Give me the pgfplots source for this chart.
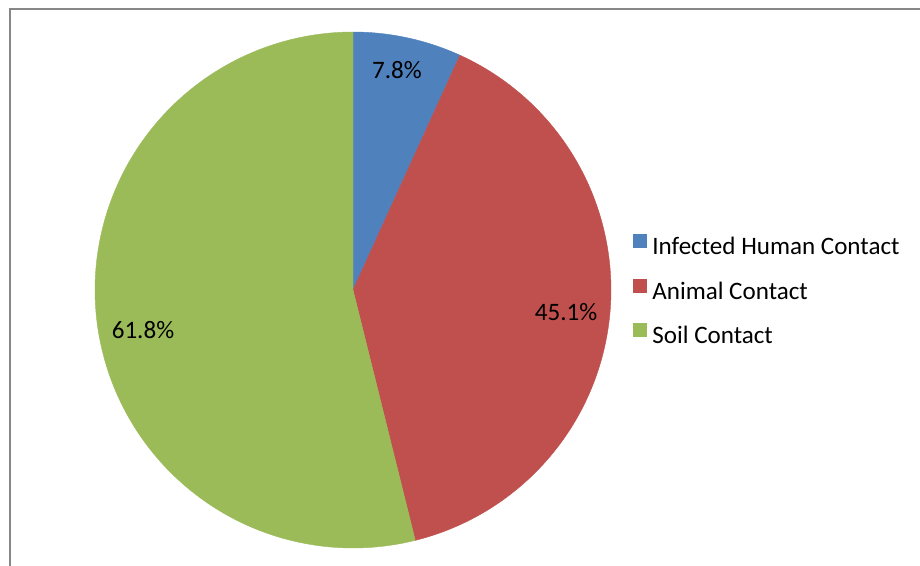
\documentclass[border=0pt]{standalone}
\usepackage{pgfplots}
\pgfplotsset{compat=1.18}
\usepackage{pgfplotstable}
\usepackage{fontspec}
\setmainfont{Carlito}
\definecolor{cBlue}{HTML}{4F81BD}
\definecolor{cRed}{HTML}{C0504D}
\definecolor{cGreen}{HTML}{9BBB59}
\definecolor{frameGray}{HTML}{878787}

\pgfplotstableread[col sep=comma]{
label,value
Infected Human Contact,7.8
Animal Contact,45.1
Soil Contact,61.8
}\piedata

\begin{document}
\begin{tikzpicture}[font=\fontsize{18.8}{22}\selectfont]
\pgfplotstablegetelem{0}{value}\of\piedata \let\va\pgfplotsretval
\pgfplotstablegetelem{1}{value}\of\piedata \let\vb\pgfplotsretval
\pgfplotstablegetelem{2}{value}\of\piedata \let\vc\pgfplotsretval
\pgfmathsetmacro\tot{\va+\vb+\vc}
\pgfmathsetmacro\aA{90}
\pgfmathsetmacro\aB{90-360*(\va/\tot)}
\pgfmathsetmacro\aC{\aB-360*(\vb/\tot)}
\pgfmathsetmacro\aD{\aC-360*(\vc/\tot)}
\useasboundingbox (0pt,0pt) rectangle (690pt,423.75pt);
\draw[line width=1.2pt, frameGray] (7.5pt,-2pt) -- (7.5pt,417pt) -- (692pt,417pt);
\begin{axis}[
  at={(264.75pt,206.25pt)}, anchor=center,
  width=387pt, height=387pt, scale only axis,
  xmin=-1, xmax=1, ymin=-1, ymax=1,
  hide axis, clip=false,
  legend cell align=left,
  legend image code/.code={\fill[#1] (0pt,0pt) rectangle (9.75pt,9.75pt); \path (14.25pt,0pt);},
  legend style={draw=none, fill=none, at={(1.0426,0.5)}, anchor=west,
    inner sep=0pt, outer sep=0pt, row sep=16.2pt, nodes={inner sep=0pt},
    font=\fontsize{18.8}{22}\selectfont},
]
\addplot[fill=cBlue, draw=cBlue, line width=0.3pt, domain=\aB:\aA, samples=80] ({cos(x)},{sin(x)}) -- (0,0) -- cycle;
\addlegendentry{Infected Human Contact}
\addplot[fill=cRed, draw=cRed, line width=0.3pt, domain=\aC:\aB, samples=150] ({cos(x)},{sin(x)}) -- (0,0) -- cycle;
\addlegendentry{Animal Contact}
\addplot[fill=cGreen, draw=cGreen, line width=0.3pt, domain=\aD:\aC, samples=200] ({cos(x)},{sin(x)}) -- (0,0) -- cycle;
\addlegendentry{Soil Contact}
\node at (axis cs:0.1705,0.853) {7.8\%};
\node at (axis cs:0.826,-0.085) {45.1\%};
\node at (axis cs:-0.814,-0.155) {61.8\%};
\end{axis}
\end{tikzpicture}
\end{document}
